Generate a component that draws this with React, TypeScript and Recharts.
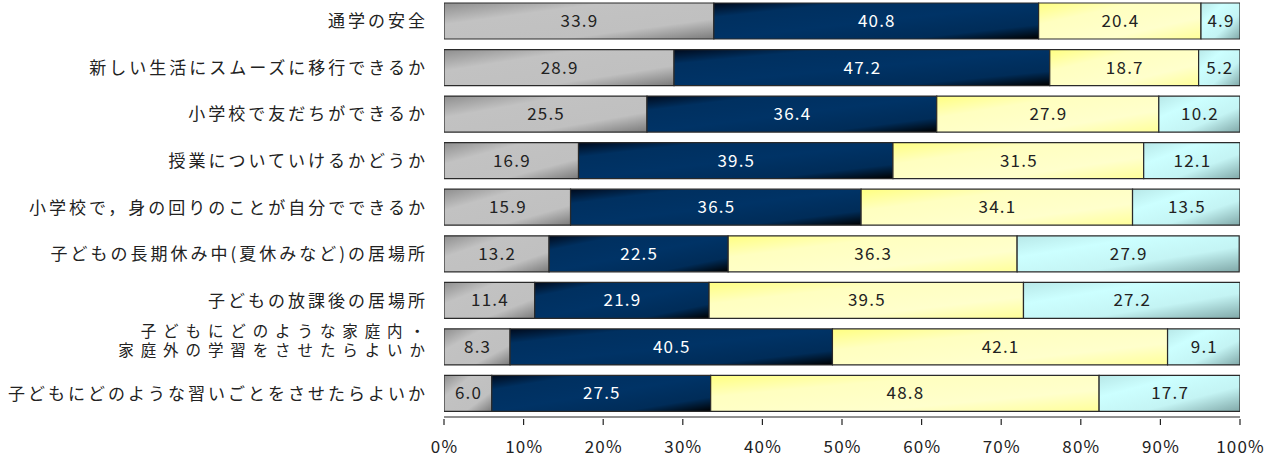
import React from 'react';
import { BarChart, Bar, XAxis, YAxis, LabelList } from 'recharts';

const categories = [
  '通学の安全',
  '新しい生活にスムーズに移行できるか',
  '小学校で友だちができるか',
  '授業についていけるかどうか',
  '小学校で，身の回りのことが自分でできるか',
  '子どもの長期休み中(夏休みなど)の居場所',
  '子どもの放課後の居場所',
  '子どもにどのような家庭内・\n家庭外の学習をさせたらよいか',
  '子どもにどのような習いごとをさせたらよいか',
];

const seriesA = [33.9, 28.9, 25.5, 16.9, 15.9, 13.2, 11.4, 8.3, 6.0];
const seriesB = [40.8, 47.2, 36.4, 39.5, 36.5, 22.5, 21.9, 40.5, 27.5];
const seriesC = [20.4, 18.7, 27.9, 31.5, 34.1, 36.3, 39.5, 42.1, 48.8];
const seriesD = [4.9, 5.2, 10.2, 12.1, 13.5, 27.9, 27.2, 9.1, 17.7];

const xTicks = [0, 10, 20, 30, 40, 50, 60, 70, 80, 90, 100];

const seriesValues: Record<string, number[]> = { a: seriesA, b: seriesB, c: seriesC, d: seriesD };

const data = categories.map((name, i) => ({
  name,
  a: seriesA[i],
  b: seriesB[i],
  c: seriesC[i],
  d: seriesD[i],
}));

const FONT = '"Noto Sans CJK JP", "Noto Sans", sans-serif';

const YTick = (props: any) => {
  const { y, payload } = props;
  const lines = String(payload.value).split('\n');
  const ls = 3.0;
  const endX = 425 + ls;
  if (lines.length === 1) {
    return (
      <text x={endX} y={y} dy={6} textAnchor="end" fontSize={17} letterSpacing={ls} fill="#222" fontFamily={FONT}>
        {lines[0]}
      </text>
    );
  }
  const ls2 = 6.9;
  return (
    <g>
      <text x={425 + ls2} y={y - 10} textAnchor="end" fontSize={15.5} letterSpacing={ls2} fill="#222" fontFamily={FONT}>
        {lines[0]}
      </text>
      <text x={425 + ls2} y={y + 9} textAnchor="end" fontSize={15.5} letterSpacing={ls2} fill="#222" fontFamily={FONT}>
        {lines[1]}
      </text>
    </g>
  );
};

const XTick = (props: any) => {
  const { x, y, payload } = props;
  return (
    <g>
      <line x1={x} y1={y} x2={x} y2={y - 6} stroke="#222" strokeWidth={1.2} />
      <text x={x + 0.6} y={y + 22} dy={6} textAnchor="middle" fontSize={17} letterSpacing={1.2} fill="#222" fontFamily={FONT}>
        {`${payload.value}%`}
      </text>
    </g>
  );
};

const makeLabel = (key: string, color: string) => (props: any) => {
  const { x, y, width, height, index } = props;
  const v = seriesValues[key][index];
  return (
    <text
      x={x + width / 2 + 0.6}
      y={y + height / 2}
      dy={6}
      textAnchor="middle"
      fontSize={17}
      letterSpacing={1.2}
      fill={color}
      fontFamily={FONT}
    >
      {v.toFixed(1)}
    </text>
  );
};

export default function App() {
  return (
    <div style={{ position: 'absolute', left: 0, top: -2, background: '#fff' }}>
      <BarChart
        width={1265}
        height={460}
        data={data}
        layout="vertical"
        margin={{ top: 0, right: 25, bottom: 0, left: 0 }}
        barSize={36}
      >
        <defs>
          <linearGradient id="gGray" x1="0" y1="0" x2="1" y2="1">
            <stop offset="0" stopColor="#8e8e8e" />
            <stop offset="0.3" stopColor="#c2c2c2" />
            <stop offset="0.72" stopColor="#c0c0c0" />
            <stop offset="1" stopColor="#7a7a7a" />
          </linearGradient>
          <linearGradient id="gNavy" x1="0" y1="0" x2="1" y2="1">
            <stop offset="0" stopColor="#000a1c" />
            <stop offset="0.2" stopColor="#003060" />
            <stop offset="0.5" stopColor="#003366" />
            <stop offset="0.8" stopColor="#002c58" />
            <stop offset="1" stopColor="#000000" />
          </linearGradient>
          <linearGradient id="gYellow" x1="0" y1="0" x2="1" y2="1">
            <stop offset="0" stopColor="#ffff80" />
            <stop offset="0.3" stopColor="#ffffc0" />
            <stop offset="0.7" stopColor="#ffffcc" />
            <stop offset="1" stopColor="#ffff99" />
          </linearGradient>
          <linearGradient id="gCyan" x1="0" y1="0" x2="1" y2="1">
            <stop offset="0" stopColor="#b8e8e8" />
            <stop offset="0.3" stopColor="#ccffff" />
            <stop offset="0.65" stopColor="#c4f4f4" />
            <stop offset="1" stopColor="#80a8a8" />
          </linearGradient>
        </defs>
        <XAxis
          type="number"
          domain={[0, 100]}
          ticks={xTicks}
          allowDataOverflow
          axisLine={{ stroke: '#222', strokeWidth: 1.2 }}
          tickLine={false}
          tick={<XTick />}
          height={41}
          interval={0}
        />
        <YAxis
          type="category"
          dataKey="name"
          width={444}
          axisLine={false}
          tickLine={false}
          tick={<YTick />}
          interval={0}
        />
        <Bar dataKey="a" stackId="s" fill="url(#gGray)" stroke="#2a2a2a" strokeWidth={1.2} isAnimationActive={false}>
          <LabelList content={makeLabel('a', '#222')} />
        </Bar>
        <Bar dataKey="b" stackId="s" fill="url(#gNavy)" stroke="#2a2a2a" strokeWidth={1.2} isAnimationActive={false}>
          <LabelList content={makeLabel('b', '#ffffff')} />
        </Bar>
        <Bar dataKey="c" stackId="s" fill="url(#gYellow)" stroke="#2a2a2a" strokeWidth={1.2} isAnimationActive={false}>
          <LabelList content={makeLabel('c', '#222')} />
        </Bar>
        <Bar dataKey="d" stackId="s" fill="url(#gCyan)" stroke="#2a2a2a" strokeWidth={1.2} isAnimationActive={false}>
          <LabelList content={makeLabel('d', '#222')} />
        </Bar>
      </BarChart>
    </div>
  );
}
